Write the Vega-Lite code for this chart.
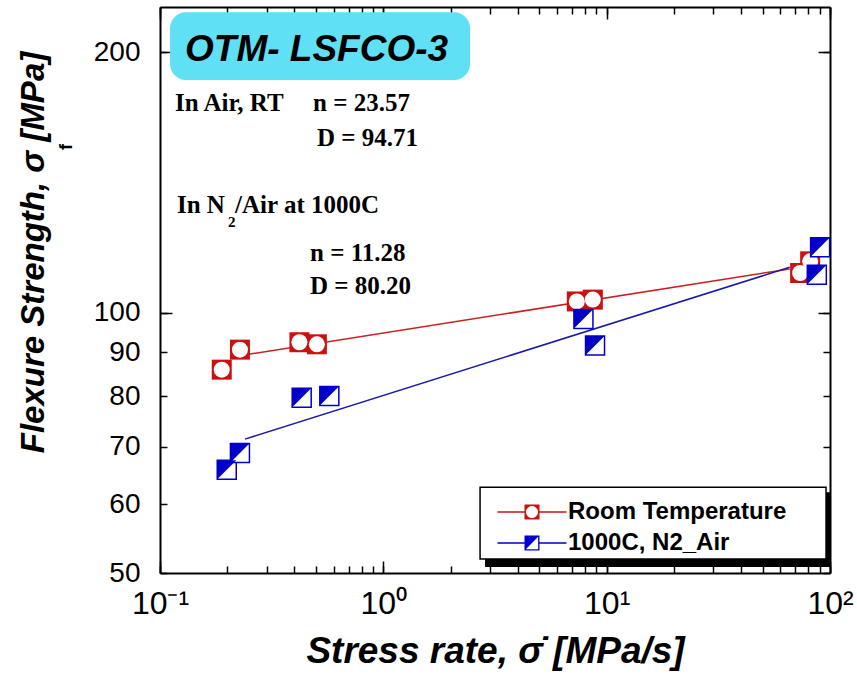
{
  "$schema": "https://vega.github.io/schema/vega-lite/v6.json",
  "width": 670,
  "height": 566,
  "autosize": {"type": "none"},
  "padding": {"left": 160, "top": 7, "right": 27, "bottom": 102},
  "background": "white",
  "config": {
    "view": {"stroke": null},
    "font": "Liberation Sans",
    "axis": {"grid": false, "domainColor": "black", "domainWidth": 2, "tickColor": "black", "tickWidth": 1.5, "labelColor": "black", "titleColor": "black"}
  },
  "datasets": {
    "points": [
      {"series": "Room Temperature", "rate": 0.189, "strength": 85.9},
      {"series": "Room Temperature", "rate": 0.228, "strength": 90.6},
      {"series": "Room Temperature", "rate": 0.421, "strength": 92.4},
      {"series": "Room Temperature", "rate": 0.504, "strength": 91.9},
      {"series": "Room Temperature", "rate": 7.35, "strength": 103.0},
      {"series": "Room Temperature", "rate": 8.67, "strength": 103.5},
      {"series": "Room Temperature", "rate": 73.5, "strength": 111.1},
      {"series": "Room Temperature", "rate": 81.5, "strength": 114.6},
      {"series": "1000C, N2_Air", "rate": 0.199, "strength": 65.8},
      {"series": "1000C, N2_Air", "rate": 0.228, "strength": 68.8},
      {"series": "1000C, N2_Air", "rate": 0.431, "strength": 79.7},
      {"series": "1000C, N2_Air", "rate": 0.573, "strength": 80.1},
      {"series": "1000C, N2_Air", "rate": 7.87, "strength": 98.3},
      {"series": "1000C, N2_Air", "rate": 8.87, "strength": 91.6},
      {"series": "1000C, N2_Air", "rate": 87.3, "strength": 110.6},
      {"series": "1000C, N2_Air", "rate": 90.3, "strength": 119.0}
    ],
    "fits": [
      {"series": "Room Temperature", "rate": 0.25, "strength": 89.5},
      {"series": "Room Temperature", "rate": 66, "strength": 112.3},
      {"series": "1000C, N2_Air", "rate": 0.24, "strength": 71.4},
      {"series": "1000C, N2_Air", "rate": 66, "strength": 112.8}
    ],
    "notes": [
      {"text": "In Air, RT", "rate": 0.1167, "strength": 174.7},
      {"text": "n = 23.57", "rate": 0.4842, "strength": 174.7},
      {"text": "D = 94.71", "rate": 0.5047, "strength": 159.2},
      {"text": "In N", "rate": 0.1191, "strength": 133.2},
      {"text": "/Air at 1000C", "rate": 0.2168, "strength": 133.2},
      {"text": "n = 11.28", "rate": 0.4697, "strength": 117.3},
      {"text": "D = 80.20", "rate": 0.4697, "strength": 107.2}
    ],
    "subscripts": [
      {"text": "2", "rate": 0.2017, "strength": 127.3}
    ],
    "heading": [
      {"text": "OTM- LSFCO-3", "rate": 0.1294, "strength": 201.1}
    ],
    "headingBox": [
      {"x0": 0.1109, "x1": 2.445, "y0": 185.7, "y1": 222.4}
    ],
    "legendShadow": [
      {"x0": 2.854, "x1": 100, "y0": 50.8, "y1": 62.0}
    ],
    "legendBox": [
      {"x0": 2.711, "x1": 96.0, "y0": 51.89, "y1": 62.83}
    ],
    "yTitleSub": [
      {"text": "f", "rate": 0.03835, "strength": 155.4}
    ]
  },
  "layer": [
    {
      "layer": [
        {
          "data": {"name": "headingBox"},
          "mark": {"type": "rect", "fill": "#5fe0f4", "cornerRadius": 16},
          "encoding": {
            "x": {"field": "x0", "type": "quantitative",
              "scale": {"type": "log", "domain": [0.1, 100], "nice": false},
              "axis": {
                "orient": "bottom",
                "title": "Stress rate, σ̇ [MPa/s]",
                "titleFont": "Liberation Sans", "titleFontSize": 37, "titleFontWeight": "bold", "titleFontStyle": "italic",
                "titlePadding": 14,
                "values": [0.1, 0.2, 0.3, 0.4, 0.5, 0.6, 0.7, 0.8, 0.9, 1, 2, 3, 4, 5, 6, 7, 8, 9, 10, 20, 30, 40, 50, 60, 70, 80, 90, 100],
                "labelExpr": "datum.value == 0.1 ? '10⁻¹' : datum.value == 1 ? '10⁰' : datum.value == 10 ? '10¹' : datum.value == 100 ? '10²' : ''",
                "labelFont": "Liberation Sans", "labelFontSize": 32, "labelPadding": 22,
                "labelFlush": false, "labelOverlap": false, "labelLimit": 200,
                "tickSize": -7
              }
            },
            "x2": {"field": "x1"},
            "y": {"field": "y0", "type": "quantitative",
              "scale": {"type": "log", "domain": [50, 225.5], "nice": false},
              "axis": {
                "orient": "left",
                "title": "Flexure Strength, σ   [MPa]",
                "titleFont": "Liberation Sans", "titleFontSize": 33, "titleFontWeight": "bold", "titleFontStyle": "italic",
                "titleX": -127, "titleY": 245, "titleBaseline": "middle", "titleAngle": 270,
                "values": [50, 60, 70, 80, 90, 100, 200],
                "format": "d",
                "labelFont": "Liberation Sans", "labelFontSize": 28, "labelPadding": 27,
                "labelFlush": false, "labelOverlap": false,
                "tickSize": -7
              }
            },
            "y2": {"field": "y1"}
          }
        },
        {
          "data": {"name": "legendShadow"},
          "mark": {"type": "rect", "fill": "black"},
          "encoding": {
            "x": {"field": "x0", "type": "quantitative"},
            "x2": {"field": "x1"},
            "y": {"field": "y0", "type": "quantitative"},
            "y2": {"field": "y1"}
          }
        },
        {
          "data": {"name": "legendBox"},
          "mark": {"type": "rect", "fill": "white", "stroke": "black", "strokeWidth": 1.5},
          "encoding": {
            "x": {"field": "x0", "type": "quantitative"},
            "x2": {"field": "x1"},
            "y": {"field": "y0", "type": "quantitative"},
            "y2": {"field": "y1"}
          }
        },
        {
          "data": {"name": "fits"},
          "transform": [{"filter": "datum.series == 'Room Temperature'"}],
          "mark": {"type": "line", "color": "#cc2020", "strokeWidth": 1.5},
          "encoding": {
            "x": {"field": "rate", "type": "quantitative"},
            "y": {"field": "strength", "type": "quantitative"}
          }
        },
        {
          "data": {"name": "fits"},
          "transform": [{"filter": "datum.series == '1000C, N2_Air'"}],
          "mark": {"type": "line", "color": "#1a1aa8", "strokeWidth": 1.5},
          "encoding": {
            "x": {"field": "rate", "type": "quantitative"},
            "y": {"field": "strength", "type": "quantitative"}
          }
        },
        {
          "data": {"name": "points"},
          "transform": [{"filter": "datum.series == 'Room Temperature'"}],
          "mark": {"type": "point", "shape": "square", "filled": true, "fill": "#cc1010", "size": 400, "strokeWidth": 0, "opacity": 1},
          "encoding": {
            "x": {"field": "rate", "type": "quantitative"},
            "y": {"field": "strength", "type": "quantitative"}
          }
        },
        {
          "data": {"name": "points"},
          "transform": [{"filter": "datum.series == 'Room Temperature'"}],
          "mark": {"type": "point", "shape": "circle", "filled": true, "fill": "white", "size": 256, "strokeWidth": 0, "opacity": 1},
          "encoding": {
            "x": {"field": "rate", "type": "quantitative"},
            "y": {"field": "strength", "type": "quantitative"}
          }
        },
        {
          "data": {"name": "points"},
          "transform": [{"filter": "datum.series == '1000C, N2_Air'"}],
          "mark": {"type": "point", "shape": "square", "filled": true, "fill": "white", "stroke": "#0000c8", "strokeWidth": 1.5, "size": 361, "opacity": 1},
          "encoding": {
            "x": {"field": "rate", "type": "quantitative"},
            "y": {"field": "strength", "type": "quantitative"}
          }
        },
        {
          "data": {"name": "points"},
          "transform": [{"filter": "datum.series == '1000C, N2_Air'"}],
          "mark": {"type": "point", "shape": "M-1,-1H1L-1,1Z", "filled": true, "fill": "#0000c8", "size": 361, "strokeWidth": 0, "opacity": 1},
          "encoding": {
            "x": {"field": "rate", "type": "quantitative"},
            "y": {"field": "strength", "type": "quantitative"}
          }
        },
        {
          "data": {"name": "points"},
          "transform": [{"filter": "false"}],
          "mark": {"type": "point", "filled": true, "opacity": 1},
          "encoding": {
            "x": {"field": "rate", "type": "quantitative"},
            "y": {"field": "strength", "type": "quantitative"},
            "color": {
              "field": "series", "type": "nominal",
              "scale": {"domain": ["Room Temperature", "1000C, N2_Air"], "range": ["#cc1010", "#0000c8"]},
              "legend": {
                "orient": "none", "legendX": 325, "legendY": 493,
                "title": null, "padding": 0,
                "symbolSize": 225, "symbolStrokeWidth": 0, "symbolOffset": 35, "labelOffset": 24,
                "labelFont": "Liberation Sans", "labelFontSize": 24, "labelFontWeight": "bold", "labelLimit": 400,
                "rowPadding": 7,
                "encode": {"labels": {"update": {"fill": {"signal": "datum.label == 'Room Temperature' ? '#cc1111' : '#0000b0'"}}}}
              }
            },
            "shape": {
              "field": "series", "type": "nominal",
              "scale": {"domain": ["Room Temperature", "1000C, N2_Air"], "range": [
                "M-1,-1H1V1H-1Z M0,-0.8A0.8,0.8 0 1 0 0,0.8A0.8,0.8 0 1 0 0,-0.8Z M-4.6,-0.1H-1V0.1H-4.6Z M1,-0.1H4.6V0.1H1Z",
                "M-1,-1H1V1H-1Z M-0.82,-0.82V0.82H0.82V-0.82Z M-0.82,-0.82H0.82L-0.82,0.82Z M-4.6,-0.1H-1V0.1H-4.6Z M1,-0.1H4.6V0.1H1Z"
              ]}
            }
          }
        },
        {
          "data": {"name": "notes"},
          "mark": {"type": "text", "font": "Liberation Serif", "fontSize": 25, "fontWeight": "bold", "align": "left", "baseline": "middle", "color": "black"},
          "encoding": {
            "x": {"field": "rate", "type": "quantitative"},
            "y": {"field": "strength", "type": "quantitative"},
            "text": {"field": "text"}
          }
        },
        {
          "data": {"name": "subscripts"},
          "mark": {"type": "text", "font": "Liberation Serif", "fontSize": 15, "fontWeight": "bold", "align": "left", "baseline": "middle", "color": "black"},
          "encoding": {
            "x": {"field": "rate", "type": "quantitative"},
            "y": {"field": "strength", "type": "quantitative"},
            "text": {"field": "text"}
          }
        },
        {
          "data": {"name": "heading"},
          "mark": {"type": "text", "font": "Liberation Sans", "fontSize": 37, "fontWeight": "bold", "fontStyle": "italic", "align": "left", "baseline": "middle", "color": "black"},
          "encoding": {
            "x": {"field": "rate", "type": "quantitative"},
            "y": {"field": "strength", "type": "quantitative"},
            "text": {"field": "text"}
          }
        },
        {
          "data": {"name": "yTitleSub"},
          "mark": {"type": "text", "font": "Liberation Sans", "fontSize": 18, "fontWeight": "bold", "angle": 270, "align": "center", "baseline": "middle", "color": "black"},
          "encoding": {
            "x": {"field": "rate", "type": "quantitative"},
            "y": {"field": "strength", "type": "quantitative"},
            "text": {"field": "text"}
          }
        }
      ]
    },
    {
      "data": {"name": "fits"},
      "mark": {"type": "point", "opacity": 0},
      "encoding": {
        "x": {"field": "rate", "type": "quantitative",
          "scale": {"type": "log", "domain": [0.1, 100], "nice": false},
          "axis": {
            "orient": "top", "title": null, "labels": false,
            "values": [0.1, 0.2, 0.3, 0.4, 0.5, 0.6, 0.7, 0.8, 0.9, 1, 2, 3, 4, 5, 6, 7, 8, 9, 10, 20, 30, 40, 50, 60, 70, 80, 90, 100],
            "tickSize": -7
          }
        },
        "y": {"field": "strength", "type": "quantitative",
          "scale": {"type": "log", "domain": [50, 225.5], "nice": false},
          "axis": {
            "orient": "right", "title": null, "labels": false,
            "values": [50, 60, 70, 80, 90, 100, 200],
            "tickSize": -7
          }
        }
      }
    },
    {
      "data": {"name": "fits"},
      "mark": {"type": "point", "opacity": 0},
      "encoding": {
        "x": {"field": "rate", "type": "quantitative",
          "axis": {"orient": "bottom", "title": null, "labels": false, "domain": false, "values": [0.1, 1, 10, 100], "tickSize": -12}
        },
        "y": {"field": "strength", "type": "quantitative",
          "axis": {"orient": "left", "title": null, "labels": false, "domain": false, "values": [100, 200], "tickSize": -12}
        }
      }
    },
    {
      "data": {"name": "fits"},
      "mark": {"type": "point", "opacity": 0},
      "encoding": {
        "x": {"field": "rate", "type": "quantitative",
          "axis": {"orient": "top", "title": null, "labels": false, "domain": false, "values": [0.1, 1, 10, 100], "tickSize": -12}
        },
        "y": {"field": "strength", "type": "quantitative",
          "axis": {"orient": "right", "title": null, "labels": false, "domain": false, "values": [100, 200], "tickSize": -12}
        }
      }
    }
  ],
  "resolve": {"axis": {"x": "independent", "y": "independent"}}
}
